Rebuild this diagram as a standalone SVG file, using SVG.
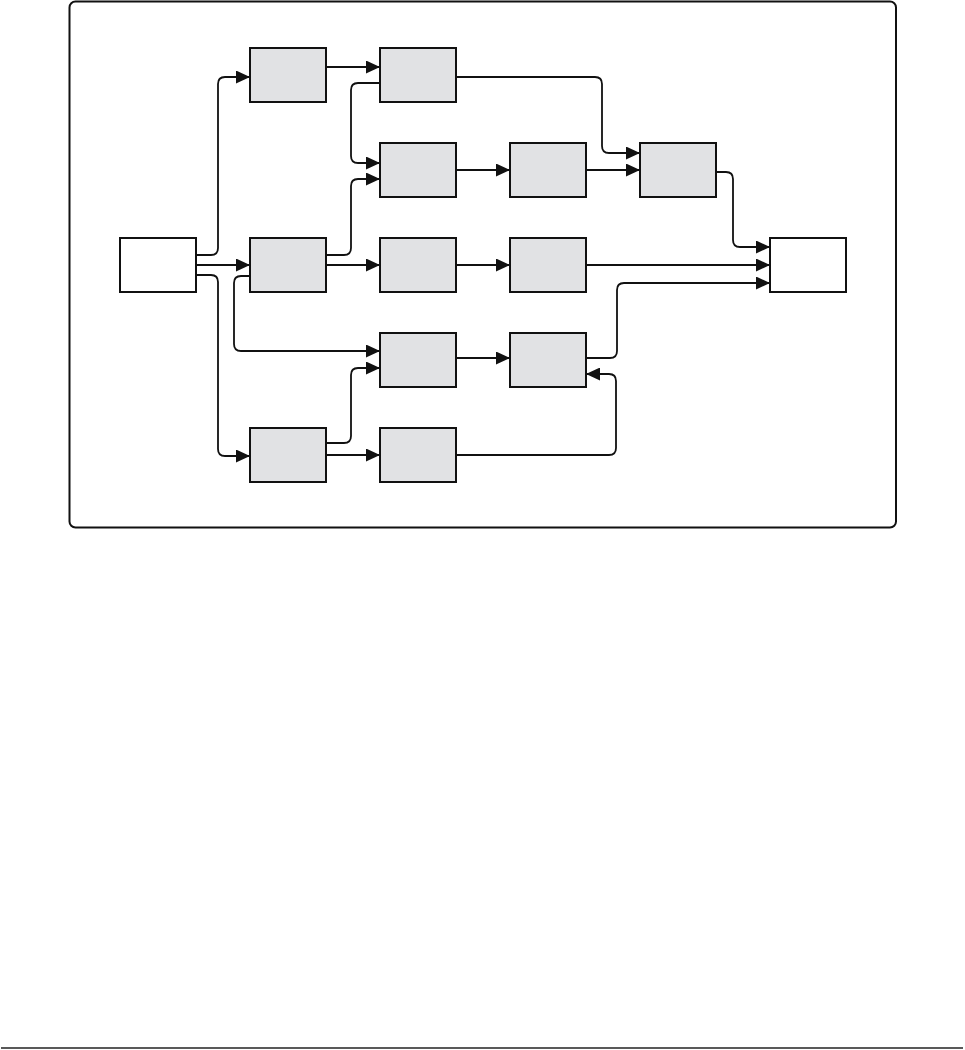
<svg xmlns="http://www.w3.org/2000/svg" width="965" height="1050" viewBox="0 0 965 1050">
  <style>
    .node { stroke: #111; stroke-width: 2; }
    .grey { fill: #e1e2e4; }
    .white { fill: #ffffff; }
    .edge { fill: none; stroke: #111; stroke-width: 1.8; }
  </style>
  <defs>
    <marker id="arr" markerUnits="userSpaceOnUse" markerWidth="14" markerHeight="13" refX="14" refY="6.5" orient="auto">
      <path d="M0,0 L14,6.5 L0,13 z" fill="#111"/>
    </marker>
  </defs>
  <rect x="0" y="0" width="965" height="1050" fill="#ffffff"/>
  <rect id="frame" x="69.5" y="1.5" width="826.5" height="526" rx="6" fill="none" stroke="#111" stroke-width="2"/>
  <rect id="footer-line" x="1" y="1047" width="962" height="2" fill="#595959"/>

  <g id="connectors">
    <path class="edge" marker-end="url(#arr)" d="M196,255 H211 Q218,255 218,248 V84 Q218,77 225,77 H250"/>
    <path class="edge" marker-end="url(#arr)" d="M196,265 H250"/>
    <path class="edge" marker-end="url(#arr)" d="M196,275 H211 Q218,275 218,282 V449 Q218,456 225,456 H250"/>
    <path class="edge" marker-end="url(#arr)" d="M326,67 H380"/>
    <path class="edge" marker-end="url(#arr)" d="M380,83 H358 Q351,83 351,90 V156 Q351,163 358,163 H380"/>
    <path class="edge" marker-end="url(#arr)" d="M326,255 H344 Q351,255 351,248 V186 Q351,179 358,179 H380"/>
    <path class="edge" marker-end="url(#arr)" d="M326,265 H380"/>
    <path class="edge" marker-end="url(#arr)" d="M250,276 H241 Q234,276 234,283 V344 Q234,351 241,351 H380"/>
    <path class="edge" marker-end="url(#arr)" d="M326,443 H344 Q351,443 351,436 V375 Q351,368 358,368 H380"/>
    <path class="edge" marker-end="url(#arr)" d="M326,455 H380"/>
    <path class="edge" marker-end="url(#arr)" d="M456,77 H595 Q602,77 602,84 V146 Q602,153 609,153 H640"/>
    <path class="edge" marker-end="url(#arr)" d="M456,170 H510"/>
    <path class="edge" marker-end="url(#arr)" d="M586,170 H640"/>
    <path class="edge" marker-end="url(#arr)" d="M716,172 H726 Q733,172 733,179 V240 Q733,247 740,247 H770"/>
    <path class="edge" marker-end="url(#arr)" d="M456,265 H510"/>
    <path class="edge" marker-end="url(#arr)" d="M586,265 H770"/>
    <path class="edge" marker-end="url(#arr)" d="M456,358 H510"/>
    <path class="edge" marker-end="url(#arr)" d="M586,358 H610 Q617,358 617,351 V290 Q617,283 624,283 H770"/>
    <path class="edge" marker-end="url(#arr)" d="M456,455 H609 Q616,455 616,448 V381 Q616,374 609,374 H586"/>
  </g>

  <g id="node-source"><rect class="node white" x="120" y="238" width="76" height="54"/></g>
  <g id="node-a"><rect class="node grey" x="250" y="48" width="76" height="54"/></g>
  <g id="node-b"><rect class="node grey" x="380" y="48" width="76" height="54"/></g>
  <g id="node-c"><rect class="node grey" x="380" y="143" width="76" height="54"/></g>
  <g id="node-d"><rect class="node grey" x="510" y="143" width="76" height="54"/></g>
  <g id="node-e"><rect class="node grey" x="640" y="143" width="76" height="54"/></g>
  <g id="node-f"><rect class="node grey" x="250" y="238" width="76" height="54"/></g>
  <g id="node-g"><rect class="node grey" x="380" y="238" width="76" height="54"/></g>
  <g id="node-h"><rect class="node grey" x="510" y="238" width="76" height="54"/></g>
  <g id="node-sink"><rect class="node white" x="770" y="238" width="76" height="54"/></g>
  <g id="node-i"><rect class="node grey" x="380" y="333" width="76" height="54"/></g>
  <g id="node-j"><rect class="node grey" x="510" y="333" width="76" height="54"/></g>
  <g id="node-k"><rect class="node grey" x="250" y="428" width="76" height="54"/></g>
  <g id="node-l"><rect class="node grey" x="380" y="428" width="76" height="54"/></g>
</svg>
